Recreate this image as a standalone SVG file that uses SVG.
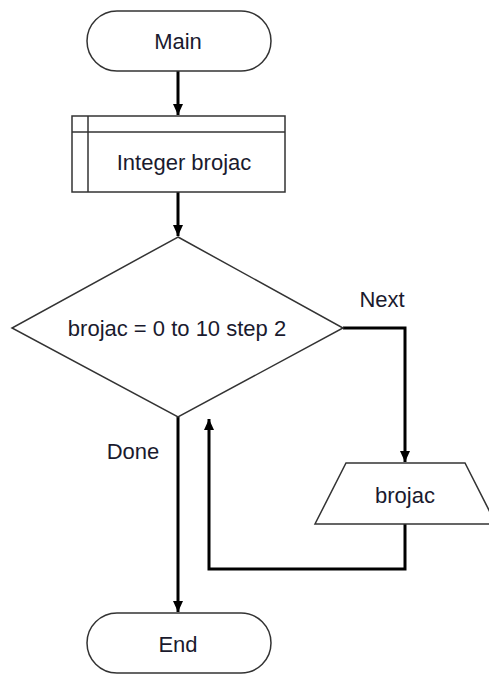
<svg xmlns="http://www.w3.org/2000/svg" width="489" height="675" viewBox="0 0 489 675">
<defs>
<marker id="arr" markerWidth="12" markerHeight="12" refX="11" refY="6" orient="auto" markerUnits="userSpaceOnUse">
<path d="M0,1 L11,6 L0,11 Z" fill="#000"/>
</marker>
<style>
.shape{fill:#fff;stroke:#333;stroke-width:1.5}
.conn{fill:none;stroke:#000;stroke-width:3}
text{font-family:"Liberation Sans",Arial,sans-serif;font-size:22px;fill:#1a1a2e}
.c{text-anchor:middle;dominant-baseline:central}
</style>
</defs>
<rect width="489" height="675" fill="#fff"/>
<g id="connectors">
<path class="conn" d="M178,71 V115" marker-end="url(#arr)"/>
<path class="conn" d="M178,192 V236" marker-end="url(#arr)"/>
<path class="conn" d="M343,328 H405 V462" marker-end="url(#arr)"/>
<path class="conn" d="M405,524 V569 H209 V419" marker-end="url(#arr)"/>
<path class="conn" d="M178,417 V612" marker-end="url(#arr)"/>
<text x="382" y="299" class="c">Next</text>
<text x="133" y="451" class="c">Done</text>
</g>
<g id="main">
<rect class="shape" x="87" y="11" width="184" height="60" rx="30"/>
<text x="178" y="41" class="c">Main</text>
</g>
<g id="declare">
<rect class="shape" x="72" y="116" width="213" height="76"/>
<line class="shape" x1="88" y1="116" x2="88" y2="192"/>
<line class="shape" x1="72" y1="132" x2="285" y2="132"/>
<text x="184" y="162" class="c">Integer brojac</text>
</g>
<g id="loop">
<polygon class="shape" points="178,237 343,328 178,417 12,328"/>
<text x="177" y="328" class="c">brojac = 0 to 10 step 2</text>
</g>
<g id="output">
<polygon class="shape" points="346,463 465,463 496,524 315,524"/>
<text x="405" y="495" class="c">brojac</text>
</g>
<g id="end">
<rect class="shape" x="87" y="613" width="184" height="60" rx="30"/>
<text x="178" y="644" class="c">End</text>
</g>
</svg>
